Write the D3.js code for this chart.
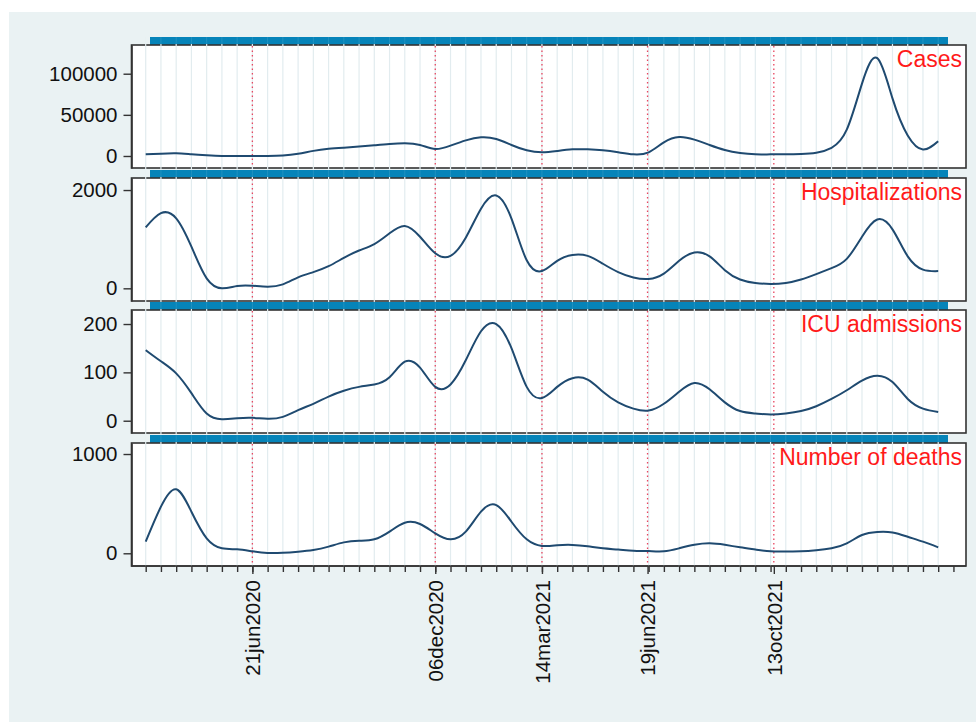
<!DOCTYPE html>
<html>
<head>
<meta charset="utf-8">
<script src="https://cdn.jsdelivr.net/npm/d3@7"></script>
<style>
  body { margin: 0; background: #fff; }
  svg { display: block; }
  text { font-family: "Liberation Sans", Arial, sans-serif; }
</style>
</head>
<body>
<div id="chart"></div>
<script>
// fortnightly observation dates
const dates = [
  "2020-03-15","2020-03-29","2020-04-12","2020-04-26","2020-05-10","2020-05-24","2020-06-07",
  "2020-06-21","2020-07-05","2020-07-19","2020-08-02","2020-08-16","2020-08-30","2020-09-13",
  "2020-09-27","2020-10-11","2020-10-25","2020-11-08","2020-11-22","2020-12-06","2020-12-20",
  "2021-01-03","2021-01-17","2021-01-31","2021-02-14","2021-02-28","2021-03-14","2021-03-28",
  "2021-04-11","2021-04-25","2021-05-09","2021-05-23","2021-06-06","2021-06-20","2021-07-04",
  "2021-07-18","2021-08-01","2021-08-15","2021-08-29","2021-09-12","2021-09-26","2021-10-10",
  "2021-10-24","2021-11-07","2021-11-21","2021-12-05","2021-12-19","2022-01-02","2022-01-16",
  "2022-01-30","2022-02-13","2022-02-27","2022-03-13"
];
const extraTickDate = "2022-03-27";

const cases = [
  2000, 2800, 3200, 2000, 800, 0, 0, 0, 0, 500,
  2600, 6200, 8700, 10100, 11400, 13000, 14600, 15400, 13400, 8500,
  12600, 19000, 22700, 20700, 13400, 6900, 4500, 6100, 8100, 8100,
  6900, 4500, 2000, 4500, 16600, 23100, 19900, 13400, 7300, 3600,
  2000, 2000, 2000, 2400, 4000, 10000, 32000, 88000, 119000, 70000,
  25000, 8000, 18000
];
const hospitalizations = [
  1241, 1530, 1424, 847, 203, 0, 47, 53, 33, 81,
  224, 330, 450, 620, 770, 900, 1120, 1270, 1050, 712,
  660, 1030, 1620, 1890, 1420, 570, 352, 560, 680, 660,
  500, 330, 220, 190, 300, 560, 730, 650, 370, 180,
  110, 90, 110, 180, 290, 410, 600, 1050, 1400, 1200,
  650, 380, 350
];
const icu = [
  146, 123, 98, 57, 15, 3, 5, 6, 4, 8,
  22, 35, 50, 62, 70, 75, 90, 122, 110, 70,
  75, 125, 185, 200, 150, 70, 47, 70, 88, 85,
  60, 38, 25, 21, 35, 60, 78, 65, 38, 20,
  15, 13, 15, 20, 30, 45, 63, 83, 93, 80,
  45, 25, 18
];
const deaths = [
  117, 470, 645, 419, 151, 50, 40, 20, 3, 5,
  16, 33, 67, 110, 127, 141, 218, 308, 295, 201,
  141, 218, 419, 486, 318, 141, 74, 80, 84, 70,
  50, 38, 26, 22, 20, 50, 85, 100, 85, 60,
  38, 20, 18, 20, 30, 50, 100, 184, 215, 210,
  167, 117, 60
];

const panelTitles = ["Cases", "Hospitalizations", "ICU admissions", "Number of deaths"];
const panelSeries = [cases, hospitalizations, icu, deaths];
const yTicks = [[0, 50000, 100000], [0, 2000], [0, 100, 200], [0, 1000]];
const yDomains = [[-14600, 134900], [-258, 2245], [-25.4, 229], [-128, 1111]];
const markedDates = ["2020-06-21", "2020-12-06", "2021-03-14", "2021-06-19", "2021-10-13"];

// layout
const W = 976, H = 722;
const boxLeft = 131.5, boxRight = 966;
const panelTops = [45, 178, 310, 443];
const panelH = 123;
const stripH = 8, stripLeft = 150, stripRight = 948;

const parse = d3.utcParse("%Y-%m-%d");
const fmt = d => d3.utcFormat("%d%b%Y")(d).toLowerCase();

const svg = d3.select("#chart").append("svg")
  .attr("width", W).attr("height", H);

svg.append("rect")
  .attr("x", 9).attr("y", 12)
  .attr("width", W - 9).attr("height", H - 12)
  .attr("fill", "#eaf2f3");

const x = d3.scaleUtc()
  .domain([parse(dates[0]), parse(dates[dates.length - 1])])
  .range([145.7, 938.2]);

const lineColor = "#1f4a70";

panelSeries.forEach((series, i) => {
  const top = panelTops[i];
  const bottom = top + panelH;
  const g = svg.append("g").attr("class", "panel");

  const y = d3.scaleLinear().domain(yDomains[i]).range([bottom, top]);

  // strip
  g.append("rect")
    .attr("x", stripLeft).attr("y", top - stripH)
    .attr("width", stripRight - stripLeft).attr("height", stripH)
    .attr("fill", "#0684b9");

  // faint grid through the strip
  g.selectAll("line.sgrid")
    .data(dates)
    .join("line")
    .attr("class", "sgrid")
    .attr("x1", d => x(parse(d))).attr("x2", d => x(parse(d)))
    .attr("y1", top - stripH).attr("y2", top)
    .attr("stroke", "#e2ecef").attr("stroke-opacity", 0.12).attr("stroke-width", 1);

  // plot box
  g.append("rect")
    .attr("x", boxLeft).attr("y", top)
    .attr("width", boxRight - boxLeft).attr("height", panelH)
    .attr("fill", "#fff")
    .attr("stroke", "#333").attr("stroke-width", 1.6);

  // vertical grid
  g.selectAll("line.grid")
    .data(dates)
    .join("line")
    .attr("class", "grid")
    .attr("x1", d => x(parse(d))).attr("x2", d => x(parse(d)))
    .attr("y1", top - 1).attr("y2", bottom + 1)
    .attr("stroke", "#e2ecef").attr("stroke-width", 1.2);

  // reference dates
  g.selectAll("line.mark")
    .data(markedDates)
    .join("line")
    .attr("class", "mark")
    .attr("x1", d => x(parse(d))).attr("x2", d => x(parse(d)))
    .attr("y1", top + 1).attr("y2", bottom - 1)
    .attr("stroke", "#e8455f").attr("stroke-width", 1.3)
    .attr("stroke-dasharray", "1.5,3");

  // series line
  const line = d3.line()
    .x((d, j) => x(parse(dates[j])))
    .y(d => y(d))
    .curve(d3.curveNatural);

  g.append("path")
    .datum(series)
    .attr("d", line)
    .attr("fill", "none")
    .attr("stroke", lineColor)
    .attr("stroke-width", 2);

  // y axis
  const yAxis = g.append("g")
    .attr("transform", `translate(${boxLeft},0)`)
    .call(d3.axisLeft(y).tickValues(yTicks[i]).tickFormat(d3.format("d"))
      .tickSize(8).tickSizeOuter(0).tickPadding(6));
  yAxis.select(".domain").attr("stroke", "#333").attr("stroke-width", 1.6);
  yAxis.selectAll(".tick line").attr("stroke", "#333").attr("stroke-width", 1.4);
  yAxis.selectAll(".tick text")
    .attr("font-size", 20.5).attr("fill", "#111")
    .style("font-family", "'Liberation Sans', Arial, sans-serif");

  // panel title
  g.append("text")
    .attr("x", 962).attr("y", top + 22)
    .attr("text-anchor", "end")
    .attr("font-size", 23)
    .attr("fill", "#ff1a1a")
    .text(panelTitles[i]);

  // x axis on last panel
  if (i === panelSeries.length - 1) {
    g.append("line")
      .attr("x1", boxLeft).attr("x2", boxRight)
      .attr("y1", bottom).attr("y2", bottom)
      .attr("stroke", "#333").attr("stroke-width", 1.6);

    const minor = g.append("g")
      .attr("transform", `translate(0,${bottom})`)
      .call(d3.axisBottom(x).tickValues(dates.concat([extraTickDate]).map(parse))
        .tickSize(6).tickFormat(""));
    minor.select(".domain").remove();
    minor.selectAll(".tick line").attr("stroke", "#333").attr("stroke-width", 1.4);

    const major = g.append("g")
      .attr("transform", `translate(0,${bottom})`)
      .call(d3.axisBottom(x).tickValues(markedDates.map(parse)).tickSize(8).tickFormat(fmt));
    major.select(".domain").remove();
    major.selectAll(".tick line").attr("stroke", "#333").attr("stroke-width", 1.4);
    major.selectAll(".tick text")
      .attr("font-size", 20.5).attr("fill", "#111")
      .style("font-family", "'Liberation Sans', Arial, sans-serif")
      .attr("text-anchor", "end")
      .attr("transform", "rotate(-90)")
      .attr("x", -14).attr("y", 0).attr("dy", "0.35em");
  }
});
</script>
</body>
</html>
